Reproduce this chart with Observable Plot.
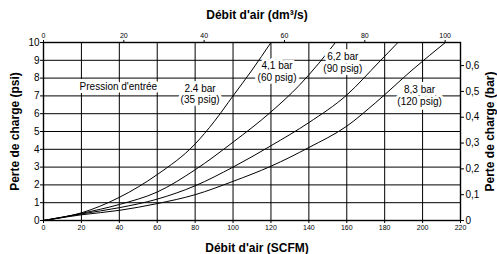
<!DOCTYPE html>
<html><head><meta charset="utf-8">
<script src="https://cdn.jsdelivr.net/npm/d3@7"></script>
<script src="https://cdn.jsdelivr.net/npm/@observablehq/plot@0.6"></script>
<style>body{margin:0;background:#fff}</style>
</head><body><div id="chart"></div>
<script>
// Flow (SCFM) and pressure drop (psi) per inlet pressure curve
const flow_24 = [0, 20, 40, 60, 80, 90, 100, 110, 120];
const psi_24  = [0, 0.43, 1.3, 2.58, 4.3, 5.55, 7.0, 8.45, 10];
const flow_41 = [0, 20, 40, 60, 80, 100, 120, 135, 145, 154];
const psi_41  = [0, 0.4, 0.9, 1.6, 2.85, 4.4, 6.1, 7.6, 8.8, 10];
const flow_62 = [0, 20, 40, 60, 80, 100, 120, 140, 160, 177, 187];
const psi_62  = [0, 0.37, 0.72, 1.2, 1.95, 3.0, 4.2, 5.5, 7.05, 8.9, 10];
const flow_83 = [0, 20, 40, 60, 80, 100, 120, 140, 160, 175, 195, 212];
const psi_83  = [0, 0.32, 0.57, 0.95, 1.45, 2.2, 3.05, 4.1, 5.3, 6.6, 8.5, 10];

// Curve labels (position in data units)
const labelText = ["Pression d'entrée", "2,4 bar\n(35 psig)", "4,1 bar\n(60 psig)", "6,2 bar\n(90 psig)", "8,3 bar\n(120 psig)"];
const labelFlow = [39.5, 82.6, 123.2, 157.9, 198.4];
const labelPsi  = [7.53, 7.13, 8.37, 8.88, 7.02];

// Axis ticks
const scfmTicks = [0, 20, 40, 60, 80, 100, 120, 140, 160, 180, 200, 220];
const psiTicks = [0, 1, 2, 3, 4, 5, 6, 7, 8, 9, 10];
const dm3Ticks = [0, 20, 40, 60, 80, 100];
const barTicks = [0, 0.1, 0.2, 0.3, 0.4, 0.5, 0.6];
const SCFM_PER_DM3S = 2.11888;
const PSI_PER_BAR = 14.5038;

const series = [
  {name: "2,4", flow: flow_24, psi: psi_24},
  {name: "4,1", flow: flow_41, psi: psi_41},
  {name: "6,2", flow: flow_62, psi: psi_62},
  {name: "8,3", flow: flow_83, psi: psi_83}
];
const rows = series.flatMap(s => s.flow.map((f, i) => ({series: s.name, flow: f, psi: s.psi[i]})));
const labels = labelText.map((t, i) => ({text: t, flow: labelFlow[i], psi: labelPsi[i]}));

const font = "Liberation Sans, Arial, sans-serif";

const chart = Plot.plot({
  width: 497, height: 254,
  marginLeft: 43, marginRight: 37, marginTop: 42, marginBottom: 34,
  style: {fontFamily: font, fontSize: "10px", color: "black", background: "white"},
  x: {domain: [0, 220]},
  y: {domain: [0, 10]},
  marks: [
    Plot.gridX(scfmTicks, {stroke: "#000", strokeOpacity: 1, strokeWidth: 1}),
    Plot.gridY(psiTicks, {stroke: "#000", strokeOpacity: 1, strokeWidth: 1}),
    Plot.line(rows, {x: "flow", y: "psi", z: "series", stroke: "black", strokeWidth: 1, curve: "monotone-x"}),
    Plot.text(labels, {x: "flow", y: "psi", text: "text", fill: "black", stroke: "white", strokeWidth: 6, fontSize: 10, lineHeight: 1.15}),
    Plot.frame({stroke: "black", strokeWidth: 1.4}),
    Plot.axisX(scfmTicks, {anchor: "bottom", tickSize: 3, tickPadding: 2, fontSize: 7, label: null}),
    Plot.axisX(dm3Ticks.map(d => d * SCFM_PER_DM3S), {anchor: "top", tickSize: 3, tickPadding: 2, fontSize: 7, label: null,
      tickFormat: d => String(Math.round(d / SCFM_PER_DM3S))}),
    Plot.axisY(psiTicks, {anchor: "left", tickSize: 3, tickPadding: 1, fontSize: 10, label: null}),
    Plot.axisY(barTicks.map(b => b * PSI_PER_BAR), {anchor: "right", tickSize: 3, tickPadding: 2, fontSize: 10, label: null,
      tickFormat: d => { const b = Math.round(d / PSI_PER_BAR * 10) / 10; return b === 0 ? "0" : b.toFixed(1).replace(".", ","); }}),
    Plot.text(["Débit d'air (SCFM)"], {frameAnchor: "bottom", dy: 28, dx: 5, textAnchor: "middle", fontWeight: "bold", fontSize: 12, lineAnchor: "middle"}),
    Plot.text(["Débit d'air (dm³/s)"], {frameAnchor: "top", dy: -27, dx: 5, textAnchor: "middle", fontWeight: "bold", fontSize: 12, lineAnchor: "middle"}),
    Plot.text(["Perte de charge (psi)"], {frameAnchor: "left", dx: -28, rotate: -90, textAnchor: "middle", fontWeight: "bold", fontSize: 12, lineAnchor: "middle"}),
    Plot.text(["Perte de charge (bar)"], {frameAnchor: "right", dx: 30, rotate: -90, textAnchor: "middle", fontWeight: "bold", fontSize: 12, lineAnchor: "middle"})
  ]
});
document.getElementById("chart").appendChild(chart);
</script>
</body></html>
